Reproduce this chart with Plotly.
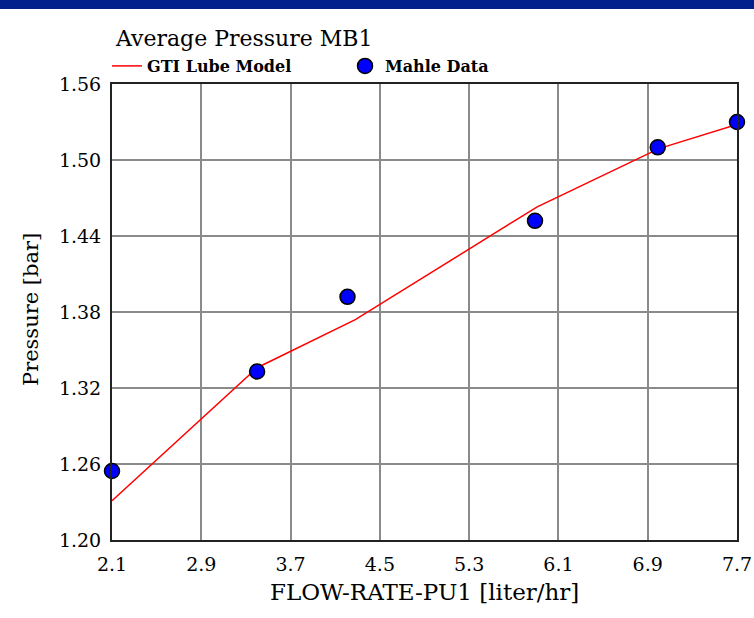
import plotly.graph_objects as go

# Data
model_x = [2.1, 3.4, 4.28, 5.91, 7.0, 7.7]
model_y = [1.231, 1.336, 1.374, 1.463, 1.509, 1.528]
mahle_x = [2.1, 3.4, 4.21, 5.89, 6.99, 7.7]
mahle_y = [1.2545, 1.333, 1.392, 1.452, 1.510, 1.530]

x_ticks = [2.1, 2.9, 3.7, 4.5, 5.3, 6.1, 6.9, 7.7]
y_ticks = [1.20, 1.26, 1.32, 1.38, 1.44, 1.50, 1.56]

FONT = "DejaVu Serif"
NAVY = "#02208c"

W, H = 754, 618
ML, MR, MT, MB = 112, 17, 84, 78
PW, PH = W - ML - MR, H - MT - MB

def px2x(px):
    return (px - ML) / PW

def py2y(py):
    return (H - MB - py) / PH

fig = go.Figure()
fig.add_trace(go.Scatter(
    x=model_x, y=model_y, mode="lines", name="GTI Lube Model",
    line=dict(color="#ff0000", width=1.5), cliponaxis=False))
fig.add_trace(go.Scatter(
    x=mahle_x, y=mahle_y, mode="markers", name="Mahle Data",
    marker=dict(color="#0000ff", size=15, line=dict(color="#000000", width=1.5)),
    cliponaxis=False))

axis_common = dict(
    showgrid=True, gridcolor="#8a8a8a", gridwidth=2,
    showline=True, linecolor="#222222", linewidth=2, mirror=True,
    zeroline=False, ticks="", tickfont=dict(family=FONT, size=19, color="#000"),
)

fig.update_layout(
    width=W, height=H,
    margin=dict(l=ML, r=MR, t=MT, b=MB, autoexpand=False),
    paper_bgcolor="white", plot_bgcolor="white",
    font=dict(family=FONT, color="#000"),
    xaxis=dict(range=[2.1, 7.7], tickvals=x_ticks, ticktext=[f"{v:.1f}" for v in x_ticks],
               ticklabelstandoff=6, **axis_common),
    yaxis=dict(range=[1.2, 1.56], tickvals=y_ticks, ticktext=[f"{v:.2f}" for v in y_ticks],
               ticklabelstandoff=5, **axis_common),
    showlegend=True,
    legend=dict(orientation="h", x=px2x(107), xanchor="left", y=py2y(66), yanchor="middle",
                font=dict(family=FONT, size=16, color="#000", weight="bold"),
                bgcolor="rgba(0,0,0,0)", entrywidth=193, entrywidthmode="pixels",
                itemwidth=30, tracegroupgap=0, borderwidth=0),
    annotations=[
        dict(text="Average Pressure MB1", x=px2x(113), xanchor="left", xref="paper",
             y=py2y(38), yref="paper", yanchor="middle", showarrow=False,
             font=dict(family=FONT, size=22, color="#000")),
        dict(text="Pressure [bar]", x=px2x(31), xref="paper", xanchor="center",
             y=py2y(310), yref="paper", yanchor="middle", textangle=-90, showarrow=False,
             font=dict(family=FONT, size=21, color="#000")),
        dict(text="FLOW-RATE-PU1 [liter/hr]", x=px2x(424), xref="paper", xanchor="center",
             y=py2y(592), yref="paper", yanchor="middle", showarrow=False,
             font=dict(family=FONT, size=23, color="#000")),
    ],
    shapes=[
        dict(type="rect", xref="paper", yref="paper", x0=px2x(0), x1=px2x(W),
             y0=py2y(9), y1=py2y(0), fillcolor=NAVY, line=dict(width=0), layer="above"),
    ],
)

fig.write_html("out.html")
